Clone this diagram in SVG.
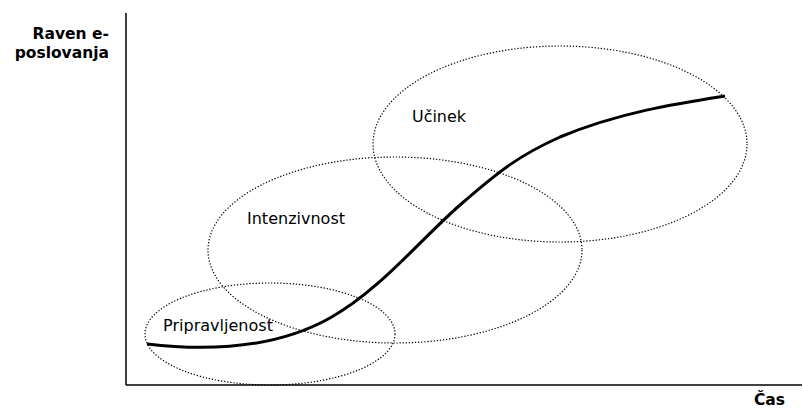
<svg xmlns="http://www.w3.org/2000/svg" width="803" height="412" viewBox="0 0 803 412">
<style>
.ell{fill:none;stroke:#000;stroke-width:1.2;stroke-dasharray:1.3,1.8}
.lbl{font-family:"DejaVu Sans",Verdana,sans-serif;font-size:16px;fill:#000}
.ax{font-family:"DejaVu Sans",Verdana,sans-serif;font-size:15.5px;font-weight:bold;fill:#000}
</style>
<rect width="803" height="412" fill="#fff"/>
<g id="axes">
<line x1="126" y1="13" x2="126" y2="385" stroke="#000" stroke-width="1.5"/>
<line x1="126" y1="385" x2="802" y2="385" stroke="#000" stroke-width="1.5"/>
<text class="ax" x="109" y="39" text-anchor="end">Raven e-</text>
<text class="ax" x="109" y="58" text-anchor="end">poslovanja</text>
<text class="ax" x="785" y="405" text-anchor="end">Čas</text>
</g>
<g id="pripravljenost">
<ellipse class="ell" cx="270" cy="334" rx="125" ry="51"/>
<text class="lbl" x="163" y="331" textLength="110" lengthAdjust="spacingAndGlyphs">Pripravljenost</text>
</g>
<g id="intenzivnost">
<ellipse class="ell" cx="395" cy="250" rx="187" ry="93"/>
<text class="lbl" x="247" y="224" textLength="98" lengthAdjust="spacingAndGlyphs">Intenzivnost</text>
</g>
<g id="ucinek">
<ellipse class="ell" cx="560" cy="144" rx="187" ry="98"/>
<text class="lbl" x="412" y="122" textLength="54" lengthAdjust="spacingAndGlyphs">Učinek</text>
</g>
<g id="connectors">
<path d="M147,344 C215,352 280,346 330,318 C380,290 420,240 460,205 C500,170 520,155 560,137 C620,112 680,103 725,96" fill="none" stroke="#000" stroke-width="3"/>
</g>
</svg>
